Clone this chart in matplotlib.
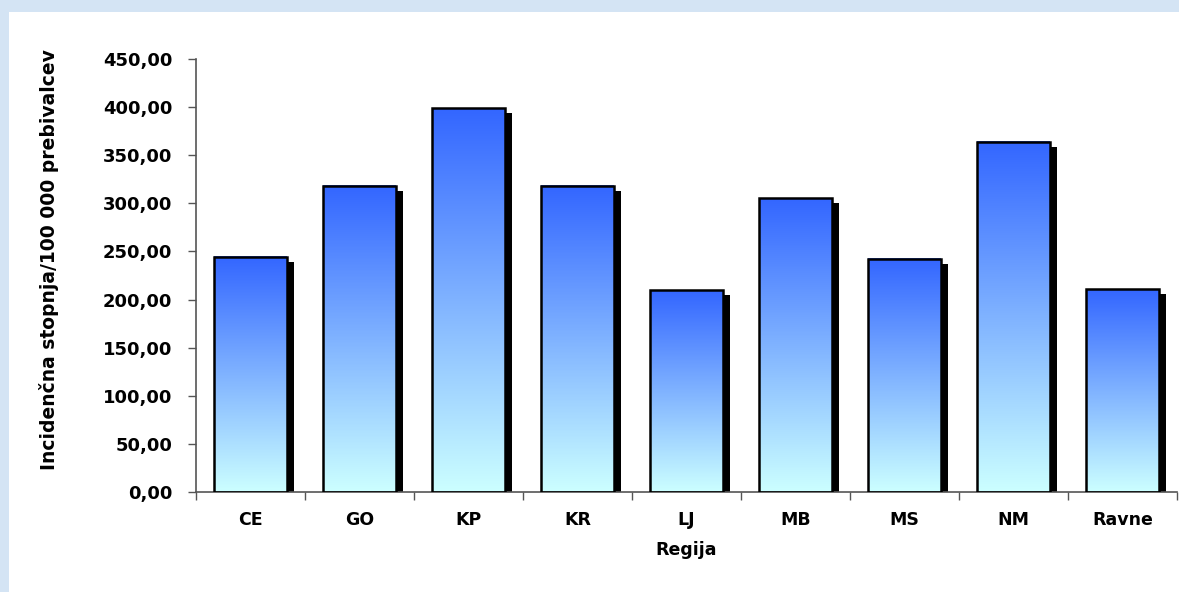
import numpy as np
import matplotlib
matplotlib.use("Agg")
import matplotlib.pyplot as plt
from matplotlib.patches import Rectangle
from matplotlib.colors import LinearSegmentedColormap
from matplotlib.ticker import FuncFormatter, FixedLocator

regije = ["CE", "GO", "KP", "KR", "LJ", "MB", "MS", "NM", "Ravne"]
incidenca = [244.5, 318.5, 399.0, 318.5, 209.5, 305.5, 242.5, 364.0, 210.5]

plt.rcParams["font.family"] = "DejaVu Sans"
plt.rcParams["font.weight"] = "bold"

fig = plt.figure(figsize=(11.79, 5.92), dpi=100, facecolor="#d4e4f4")
# bela podlaga
fig.add_artist(Rectangle((9 / 1179, 0), 1, 1 - 12 / 592, transform=fig.transFigure,
                         facecolor="white", edgecolor="none", zorder=-5))

ax = fig.add_axes([196 / 1179, 1 - 492 / 592, (1177 - 196) / 1179, (492 - 59) / 592])
ax.set_facecolor("none")

cmap = LinearSegmentedColormap.from_list("grad", ["#ccffff", "#3366ff"])
grad = np.linspace(0, 1, 256).reshape(-1, 1)
sirina = 0.667
dx, dy = 0.065, 5.2

x = np.arange(len(regije))
for xi, v in zip(x, incidenca):
    # senca
    ax.add_patch(Rectangle((xi - sirina / 2 + dx, 0), sirina, v - dy,
                           facecolor="black", edgecolor="none", zorder=1))
    ax.imshow(grad, extent=[xi - sirina / 2, xi + sirina / 2, 0, v], origin="lower",
              cmap=cmap, aspect="auto", zorder=2)
    ax.add_patch(Rectangle((xi - sirina / 2, 0), sirina, v,
                           facecolor="none", edgecolor="black", linewidth=1.8, zorder=3))

ax.set_xlim(-0.5, len(regije) - 0.5)
ax.set_ylim(0, 450)
ax.set_yticks(np.arange(0, 451, 50))
ax.yaxis.set_major_formatter(FuncFormatter(lambda v, p: f"{v:.2f}".replace(".", ",")))

ax.set_xticks(x)
ax.set_xticklabels(regije)
ax.xaxis.set_minor_locator(FixedLocator(np.arange(-0.5, len(regije), 1)))
ax.tick_params(axis="x", which="major", length=0, pad=14, labelsize=12.5)
ax.tick_params(axis="x", which="minor", length=6, width=1, color="#555555")
ax.tick_params(axis="y", length=6, width=1, color="#555555", pad=11, labelsize=13)

for s in ["top", "right"]:
    ax.spines[s].set_visible(False)
for s in ["left", "bottom"]:
    ax.spines[s].set_color("#555555")
    ax.spines[s].set_linewidth(1.2)

ax.set_xlabel("Regija", fontsize=12.5, fontweight="bold", labelpad=8)
ax.set_ylabel("Incidenčna stopnja/100 000 prebivalcev", fontsize=13.5, fontweight="bold")
ax.yaxis.set_label_coords(-0.14, 0.536)

fig.savefig("out.png", dpi=100, facecolor=fig.get_facecolor())
